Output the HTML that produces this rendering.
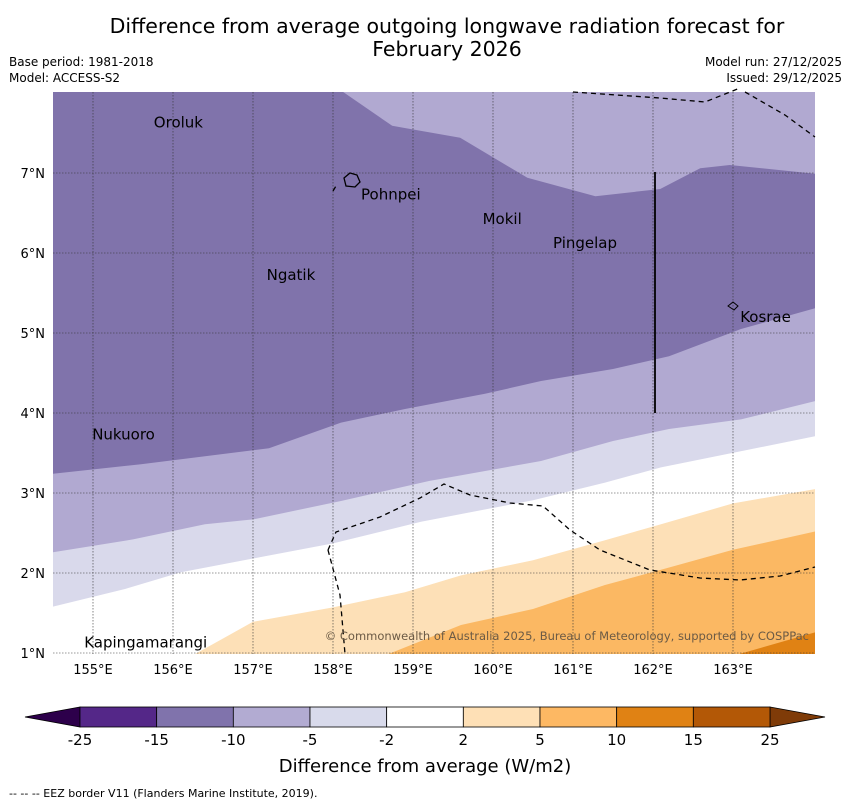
<!DOCTYPE html>
<html><head><meta charset="utf-8"><style>
body{margin:0;background:#fff;font-family:"Liberation Sans","DejaVu Sans",sans-serif}
svg text{font-family:"DejaVu Sans","Liberation Sans",sans-serif}
</style></head><body>
<svg id="c" width="850" height="804" xmlns="http://www.w3.org/2000/svg">
<text x="447" y="33" font-size="20.5" text-anchor="middle">Difference from average outgoing longwave radiation forecast for</text>
<text x="447" y="56" font-size="20.5" text-anchor="middle">February 2026</text>
<text x="9" y="66" font-size="12">Base period: 1981-2018</text>
<text x="9" y="82" font-size="12">Model: ACCESS-S2</text>
<text x="842" y="66" font-size="12" text-anchor="end">Model run: 27/12/2025</text>
<text x="842" y="82" font-size="12" text-anchor="end">Issued: 29/12/2025</text>
<defs><clipPath id="pc"><rect x="53" y="92" width="762" height="562"/></clipPath></defs>
<g id="map" clip-path="url(#pc)"></g>
<g id="ov"></g>
<text x="9" y="797" font-size="11">--  --  -- EEZ border V11 (Flanders Marine Institute, 2019).</text>
</svg>
<script>
const lonTicks=[155,156,157,158,159,160,161,162,163];
const latTicks=[1,2,3,4,5,6,7];
const bndTop=[[154.5,8.1],[158.0,8.1],[158.74,7.59],[159.59,7.44],[160.43,6.94],[161.28,6.71],[162.09,6.8],[162.59,7.06],[162.96,7.1],[164.03,6.99]];
const bndDark=[[154.5,3.24],[155.6,3.36],[156.4,3.46],[157.2,3.56],[158.1,3.88],[158.9,4.05],[159.9,4.24],[160.6,4.4],[161.5,4.55],[162.2,4.71],[163.1,5.05],[164.03,5.31]];
const bndM10=[[154.5,2.26],[155.5,2.42],[156.4,2.61],[157.0,2.67],[158.1,2.9],[159.2,3.15],[160.6,3.4],[161.5,3.65],[162.2,3.8],[163.1,3.92],[164.03,4.15]];
const bndM5=[[154.5,1.58],[155.4,1.8],[156.1,2.01],[157.1,2.2],[158.0,2.37],[159.1,2.64],[160.5,2.91],[161.4,3.13],[162.1,3.32],[164.03,3.71]];
const bndP2=[[156.21,0.95],[157.0,1.39],[158.0,1.57],[158.9,1.76],[159.6,1.97],[160.5,2.16],[161.4,2.41],[162.1,2.61],[163.0,2.87],[164.03,3.05]];
const bndP5=[[158.6,0.95],[159.6,1.35],[160.5,1.55],[161.4,1.85],[162.1,2.04],[163.0,2.29],[164.03,2.52]];
const bndP10=[[162.95,0.95],[164.03,1.26]];
const layerColors=['#8073ab','#b1a9d1','#d9d9eb','#ffffff','#fde0b7','#fbb863','#e08214'];
const cbColors=['#542788','#8073ac','#b2abd2','#d8daeb','#ffffff','#fee0b6','#fdb863','#e08214','#b35806'];
const cbLabels=['-25','-15','-10','-5','-2','2','5','10','15','25'];
const places=[['Oroluk',155.76,7.57],['Pohnpei',158.35,6.67],['Mokil',159.87,6.36],['Pingelap',160.75,6.06],['Ngatik',157.17,5.66],['Kosrae',163.09,5.14],['Nukuoro',154.99,3.67],['Kapingamarangi',154.89,1.07]];
const X=l=>93+(l-155)*80, Y=a=>653-(a-1)*80;
const NS='http://www.w3.org/2000/svg';
function mk(t,at,p){const e=document.createElementNS(NS,t);for(const k in at)e.setAttribute(k,at[k]);(p||document.getElementById('ov')).appendChild(e);return e;}
const map=document.getElementById('map');
let r=mk('rect',{x:53,y:92,width:762,height:562,fill:'#b1a9d1'},map);


const bnds=[bndTop,bndDark,bndM10,bndM5,bndP2,bndP5,bndP10];
const names=['region-minus15','region-minus10','region-minus5','region-minus2','region-plus2','region-plus5','region-plus10'];
bnds.forEach((b,i)=>{
 let pts=b.map(p=>X(p[0])+','+Y(p[1]));
 pts.push(X(b[b.length-1][0])+',700',X(b[0][0])+',700');
 const e=mk('polygon',{points:pts.join(' '),fill:layerColors[i]},map);
 
 
});
lonTicks.forEach(l=>{const e=mk('line',{x1:X(l),x2:X(l),y1:92,y2:654,stroke:'#333',"stroke-width":0.6,"stroke-dasharray":'1.5,1.5'});
 
 const t=mk('text',{x:X(l),y:674,"font-size":13,"text-anchor":'middle'});t.textContent=l+'°E';
 });
latTicks.forEach(a=>{const e=mk('line',{x1:53,x2:815,y1:Y(a),y2:Y(a),stroke:'#333',"stroke-width":0.6,"stroke-dasharray":'1.5,1.5'});
 
 const t=mk('text',{x:45,y:Y(a)+5,"font-size":13,"text-anchor":'end'});t.textContent=a+'°N';
 });
[[[573,92],[660,98],[705,102],[740,88]],[[745,92],[785,115],[815,137]],[[328,550],[336,532],[380,517],[420,498],[444,484],[470,495],[510,503],[543,506],[570,530],[600,550],[650,570],[700,578],[740,580],[780,576],[815,567]],[[328,550],[340,595],[345,654]],[[333,191],[336,186]]].forEach(p=>{
 const e=mk('polyline',{points:p.map(q=>q.join(',')).join(' '),fill:'none',stroke:'#000',"stroke-width":1.3,"stroke-dasharray":'5,4'});
 });
let v=mk('line',{x1:655,x2:655,y1:172,y2:413,stroke:'#000',"stroke-width":1.8});

let is=mk('path',{d:'M344,178 l6,-5 l7,2 l3,7 l-5,5 l-9,-1 z',fill:'none',stroke:'#000',"stroke-width":1.3});

let ks=mk('path',{d:'M728,306 l5,-4 l5,4 l-4,4 z',fill:'none',stroke:'#000',"stroke-width":1});

places.forEach(p=>{const t=mk('text',{x:X(p[1]),y:Y(p[2]),"font-size":15});t.textContent=p[0];
 });
let cp=mk('text',{x:809,y:640,"font-size":11.5,"text-anchor":'end',fill:'#6b5a45'});cp.textContent='© Commonwealth of Australia 2025, Bureau of Meteorology, supported by COSPPac';

const cx0=80,cw=(770-80)/9,cy=707,ch=20;
let tl=mk('polygon',{points:`${cx0},${cy} 25,${cy+ch/2} ${cx0},${cy+ch}`,fill:'#2d004b',stroke:'#000',"stroke-width":0.8});

let tr=mk('polygon',{points:`770,${cy} 825,${cy+ch/2} 770,${cy+ch}`,fill:'#7f3b08',stroke:'#000',"stroke-width":0.8});

cbColors.forEach((c,i)=>{const e=mk('rect',{x:cx0+i*cw,y:cy,width:cw,height:ch,fill:c,stroke:'#000',"stroke-width":0.8});
 });
cbLabels.forEach((l,i)=>{const t=mk('text',{x:cx0+i*cw,y:745,"font-size":15,"text-anchor":'middle'});t.textContent=l;
 });
let ct=mk('text',{x:425,y:772,"font-size":18,"text-anchor":'middle'});ct.textContent='Difference from average (W/m2)';

</script>
</body></html>
